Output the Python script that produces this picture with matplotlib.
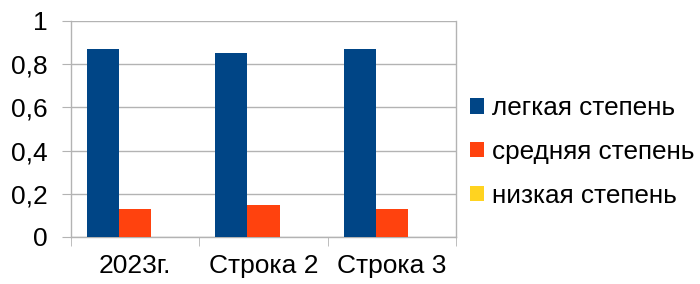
import matplotlib
matplotlib.use("Agg")
import matplotlib.pyplot as plt
import numpy as np
from matplotlib.patches import Patch

categories = ["2023г.", "Строка 2", "Строка 3"]
series_names = ["легкая степень", "средняя степень", "низкая степень"]
light = [0.87, 0.85, 0.87]
medium = [0.13, 0.15, 0.13]
low = [0.0, 0.0, 0.0]
colors = ["#004586", "#ff420e", "#ffd320"]
yticks = [0, 0.2, 0.4, 0.6, 0.8, 1]
ytick_labels = ["0", "0,2", "0,4", "0,6", "0,8", "1"]

plt.rcParams['font.family'] = ['Liberation Sans', 'DejaVu Sans']

fig = plt.figure(figsize=(7, 2.84), dpi=100)
ax = fig.add_axes([71/700, 1 - 237/284, (456-71)/700, (237-21)/284])

x = np.arange(len(categories))
w = 0.25
for i, (vals, c) in enumerate(zip([light, medium, low], colors)):
    ax.bar(x - 0.375 + w*i + w/2, vals, width=w, color=c, zorder=3, linewidth=0)

ax.set_xlim(-0.5, 2.5)
ax.set_ylim(0, 1)
ax.set_yticks(yticks)
ax.set_yticklabels(ytick_labels, fontsize=19)
ax.set_xticks(x)
ax.set_xticklabels(categories, fontsize=19)
ax.tick_params(axis='x', length=0, pad=12)
ax.tick_params(axis='y', length=6.5, color='#b3b3b3', pad=10)
ax.set_xticks([-0.5, 0.5, 1.5, 2.5], minor=True)
ax.tick_params(axis='x', which='minor', length=6.5, color='#b3b3b3')
ax.grid(axis='y', color='#b3b3b3', linewidth=1, zorder=0)
for s in ['top']:
    ax.spines[s].set_visible(False)
for s in ['left', 'right', 'bottom']:
    ax.spines[s].set_color('#b3b3b3')
    ax.spines[s].set_linewidth(1)

handles = [Patch(facecolor=c, edgecolor='none') for c in colors]
fig.legend(handles, series_names, loc='center left', bbox_to_anchor=(470/700, (284-152)/284),
           frameon=False, fontsize=18.8, handlelength=0.53, handleheight=0.53,
           handletextpad=0.3, labelspacing=0.75, borderpad=0, borderaxespad=0)

fig.savefig("out.png", dpi=100)
